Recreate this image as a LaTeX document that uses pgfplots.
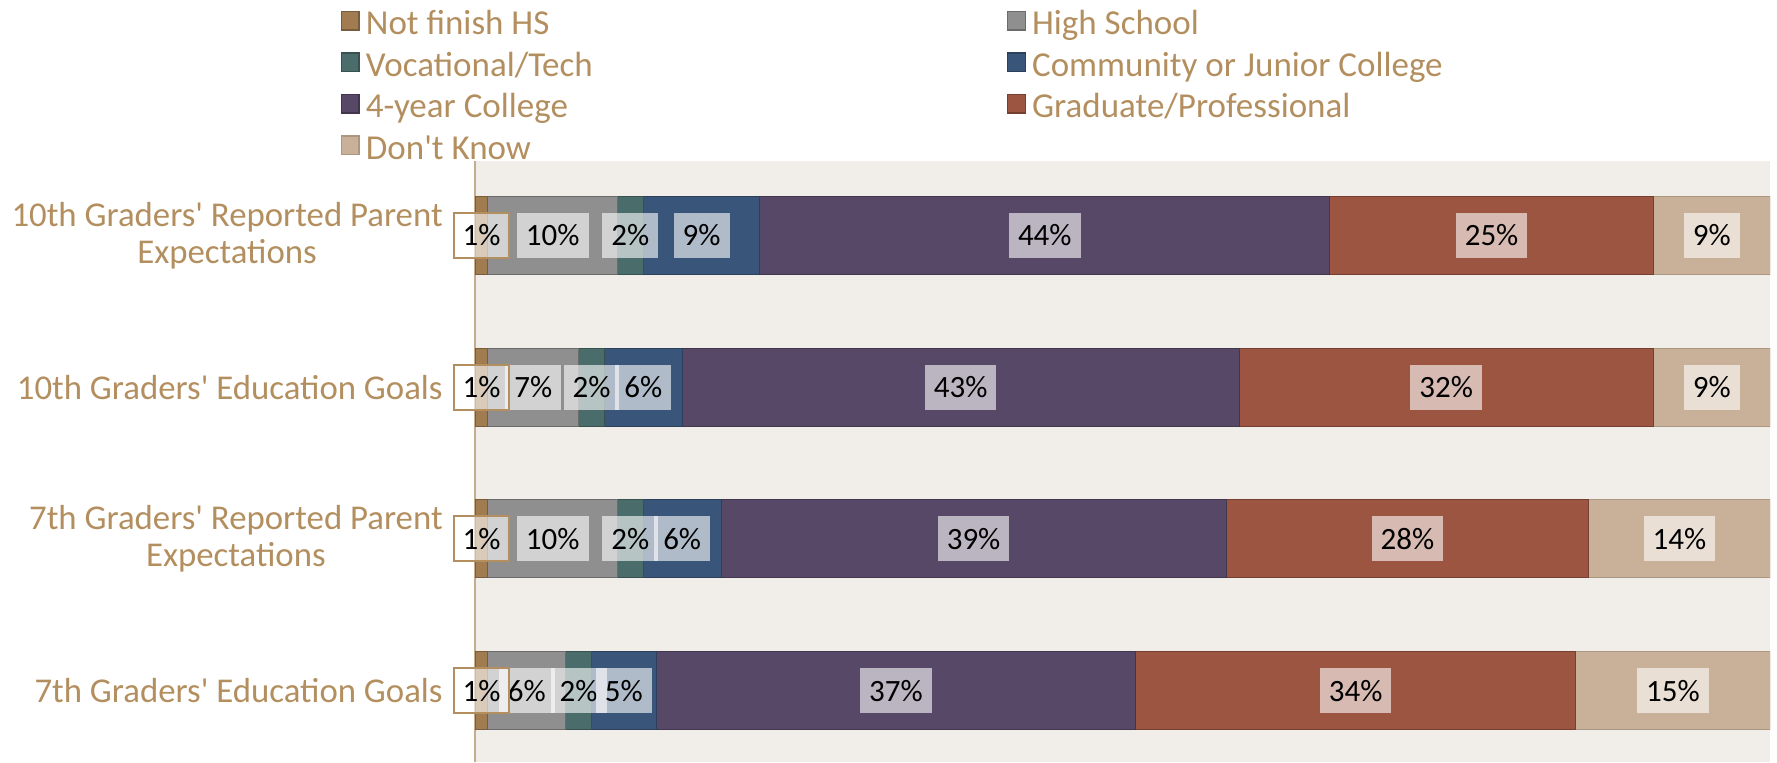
\documentclass[border=0pt]{standalone}
\usepackage{pgfplots}
\usepackage{pgfplotstable}
\pgfplotsset{compat=1.18}
\usepackage{fontspec}
\setmainfont{Carlito}
\definecolor{tanT}{HTML}{B38F5F}
\definecolor{axT}{HTML}{C4AC8C}
\definecolor{bgc}{HTML}{F1EEE9}
\definecolor{cNF}{HTML}{A07C50}
\definecolor{cHS}{HTML}{8F8F8F}
\definecolor{cVT}{HTML}{4A6C6A}
\definecolor{cCC}{HTML}{3A557A}
\definecolor{cFY}{HTML}{574868}
\definecolor{cGP}{HTML}{9C5541}
\definecolor{cDK}{HTML}{C9B098}

\pgfplotstableread{
y nf hs vt cc fy gp dk
0 1 10 2 9 44 25 9
1 1 7 2 6 43 32 9
2 1 10 2 6 39 28 14
3 1 6 2 5 37 34 15
}\datatable

\pgfplotstableread{
x y v
6 0 10
12 0 2
17.5 0 9
44 0 44
78.5 0 25
95.5 0 9
4.5 1 7
9 1 2
13 1 6
37.5 1 43
75 1 32
95.5 1 9
6 2 10
12 2 2
16 2 6
38.5 2 39
72 2 28
93 2 14
4 3 6
8 3 2
11.5 3 5
32.5 3 37
68 3 34
92.5 3 15
}\labtable

\pgfplotstableread{
x y v
0.5 0 1
0.5 1 1
0.5 2 1
0.5 3 1
}\onetable

\newcommand{\LE}[1]{\makebox[317.4pt][l]{\rule[-5pt]{0pt}{20.3pt}\textcolor{tanT}{#1}}}

\begin{document}
\begin{tikzpicture}
\pgfplotsset{
  leg/.style={legend image code/.code={\draw[##1, line width=0.7pt] (0.35pt,-4.55pt) rectangle (9.15pt,4.75pt);}},
  common/.style={at={(237.5pt,0pt)}, anchor=south west, scale only axis,
    width=647.5pt, height=300.5pt, xmin=0, xmax=100, ymin=-0.491, ymax=3.471, y dir=reverse}
}
\begin{axis}[common,
  xbar stacked, bar width=0.514,
  axis background/.style={fill=bgc},
  axis x line=none, axis y line*=left,
  y axis line style={draw=axT, line width=0.8pt},
  ytick={0,1,2,3},
  yticklabels={{10th Graders\textquotesingle\ Reported Parent\\Expectations},{10th Graders\textquotesingle\ Education Goals},{7th Graders\textquotesingle\ Reported Parent\\Expectations},{7th Graders\textquotesingle\ Education Goals}},
  yticklabel style={align=center, text=tanT, font=\fontsize{17.4}{18.5}\selectfont, inner sep=0pt, xshift=-16pt},
  major tick length=0pt,
  legend columns=2,
  legend style={at={(-0.1037,1.2678)}, anchor=north west, draw=none, fill=none,
    inner sep=0pt, outer sep=0pt, column sep=1.1pt, row sep=0pt,
    font=\fontsize{17.5}{20}\selectfont, cells={anchor=west}},
]
\addplot[leg, fill=cNF, draw=cNF!75!black, line width=0.5pt] table[x=nf, y=y] {\datatable};
\addlegendentry{\LE{Not finish HS}}
\addplot[leg, fill=cHS, draw=cHS!75!black, line width=0.5pt] table[x=hs, y=y] {\datatable};
\addlegendentry{\LE{High School}}
\addplot[leg, fill=cVT, draw=cVT!75!black, line width=0.5pt] table[x=vt, y=y] {\datatable};
\addlegendentry{\LE{Vocational/Tech}}
\addplot[leg, fill=cCC, draw=cCC!75!black, line width=0.5pt] table[x=cc, y=y] {\datatable};
\addlegendentry{\LE{Community or Junior College}}
\addplot[leg, fill=cFY, draw=cFY!75!black, line width=0.5pt] table[x=fy, y=y] {\datatable};
\addlegendentry{\LE{4-year College}}
\addplot[leg, fill=cGP, draw=cGP!75!black, line width=0.5pt] table[x=gp, y=y] {\datatable};
\addlegendentry{\LE{Graduate/Professional}}
\addplot[leg, fill=cDK, draw=cDK!85!black, line width=0.5pt] table[x=dk, y=y] {\datatable};
\addlegendentry{\LE{Don\textquotesingle t Know}}
\end{axis}
\begin{axis}[common, hide axis, clip=false,
  nodes near coords={\pgfmathprintnumber[assume math mode=true]{\pgfplotspointmeta}\%},
  point meta=explicit,
  every node near coord/.style={anchor=center, fill=white, fill opacity=0.6, text opacity=1, text=black,
    font=\fontsize{15.5}{15.5}\selectfont, inner xsep=4.5pt, inner ysep=0pt, minimum height=22.5pt}]
\addplot[only marks, mark=none] table[x=x, y=y, meta=v] {\labtable};
\addplot[only marks, mark=none, every node near coord/.append style={draw=tanT, draw opacity=1, line width=1pt}] table[x=x, y=y, meta=v] {\onetable};
\end{axis}
\pgfresetboundingbox
\useasboundingbox (0,0) rectangle (888.5pt,381pt);
\end{tikzpicture}
\end{document}
